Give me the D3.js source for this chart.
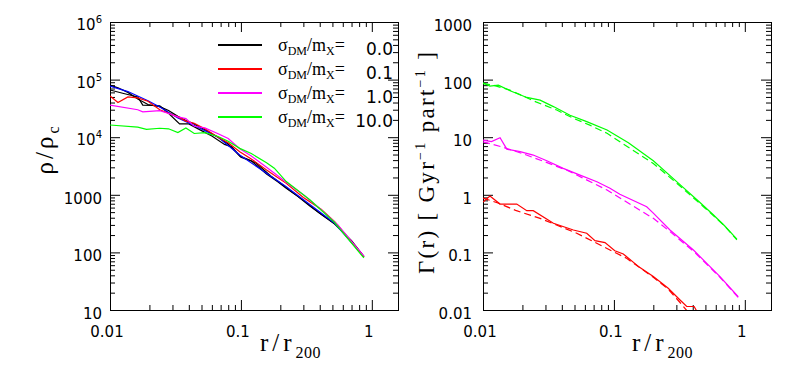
<!DOCTYPE html>
<html>
<head>
<meta charset="utf-8">
<script src="https://cdn.jsdelivr.net/npm/d3@7"></script>
<style>
body { margin: 0; background: #fff; }
text { fill: #000; }
</style>
</head>
<body>
<script>
// ---- left panel: density profiles, [r/r200, rho/rho_c] ----
var rhoBlueFit = [[0.01, 77400], [0.0137, 62000], [0.0195, 43000], [0.024, 33500], [0.033, 21500],
    [0.044, 16000], [0.067, 10000], [0.098, 4900], [0.157, 2360], [0.222, 1380], [0.336, 680],
    [0.52, 320], [0.87, 84]];
var rhoBlackA = [[0.01, 80000], [0.0115, 72000], [0.0137, 60000], [0.0163, 46000], [0.0195, 37000],
    [0.024, 34000], [0.028, 29000], [0.033, 23000], [0.038, 19500], [0.044, 17000], [0.053, 13500],
    [0.067, 10000], [0.08, 7600], [0.098, 4700], [0.12, 3900], [0.157, 2300], [0.19, 1700],
    [0.222, 1300], [0.27, 950], [0.336, 640], [0.42, 440], [0.52, 310], [0.7, 160], [0.87, 85]];
var rhoBlackB = [[0.01, 66000], [0.0125, 58000], [0.0163, 50000], [0.0178, 36000], [0.021, 35500],
    [0.024, 35000], [0.028, 26000], [0.034, 17000], [0.04, 17000], [0.05, 13000], [0.06, 10500],
    [0.075, 7500], [0.085, 6800], [0.1, 4500], [0.13, 3600], [0.17, 2100], [0.2, 1600],
    [0.23, 1250], [0.3, 800], [0.4, 480], [0.55, 290], [0.87, 84]];
var rhoRed = [[0.01, 52000], [0.0115, 40000], [0.0137, 50000], [0.0163, 48000], [0.0195, 42000],
    [0.024, 30000], [0.028, 26000], [0.033, 22500], [0.038, 19000], [0.044, 17500], [0.053, 14000],
    [0.067, 10000], [0.08, 8000], [0.098, 5600], [0.12, 4200], [0.157, 2700], [0.222, 1580],
    [0.3, 900], [0.41, 560], [0.52, 340], [0.87, 84]];
var rhoMagenta = [[0.01, 36000], [0.0163, 30000], [0.0178, 27500], [0.024, 29000], [0.0277, 26000],
    [0.033, 22500], [0.038, 21000], [0.044, 15500], [0.053, 14500], [0.067, 11500], [0.08, 9500],
    [0.098, 6300], [0.12, 4700], [0.157, 3000], [0.222, 1650], [0.3, 1000], [0.4, 580],
    [0.55, 300], [0.87, 86]];
var rhoGreen = [[0.01, 16300], [0.0163, 15000], [0.019, 13700], [0.024, 14300], [0.028, 14000],
    [0.033, 12000], [0.038, 14500], [0.044, 11600], [0.053, 12000], [0.067, 10300], [0.08, 8500],
    [0.098, 6400], [0.12, 5200], [0.157, 3600], [0.18, 2900], [0.222, 1700], [0.3, 1000],
    [0.336, 820], [0.52, 330], [0.87, 80]];

// ---- right panel: scattering rate, [r/r200, Gamma] (solid = measured, dashed = estimate) ----
var gamGreen = [[0.01, 88], [0.0113, 77], [0.0131, 80], [0.0161, 64], [0.0216, 49], [0.0273, 44],
    [0.0345, 34], [0.0462, 24], [0.062, 18.6], [0.0886, 13.3], [0.129, 8.0], [0.2, 3.9],
    [0.32, 1.5], [0.45, 0.75], [0.574, 0.45], [0.7, 0.29], [0.87, 0.17]];
var gamGreenEst = [[0.01, 85], [0.012, 80], [0.016, 66], [0.0254, 41], [0.0366, 29.6], [0.049, 21.3],
    [0.0655, 16.2], [0.0886, 11.7], [0.118, 7.6], [0.2, 3.5], [0.32, 1.42], [0.5, 0.58],
    [0.7, 0.29], [0.87, 0.165]];
var gamMagenta = [[0.01, 8.9], [0.0116, 8.4], [0.0135, 9.8], [0.0152, 6.2], [0.0192, 5.6],
    [0.0242, 4.9], [0.0307, 3.9], [0.041, 2.88], [0.0551, 2.2], [0.0741, 1.69], [0.0933, 1.3],
    [0.111, 1.02], [0.178, 0.62], [0.2, 0.48], [0.268, 0.245], [0.405, 0.11], [0.646, 0.038],
    [0.89, 0.017]];
var gamMagentaEst = [[0.01, 8.3], [0.0139, 6.8], [0.02, 5.2], [0.03, 3.7], [0.045, 2.6],
    [0.0886, 1.21], [0.118, 0.81], [0.2, 0.39], [0.268, 0.23], [0.405, 0.105], [0.646, 0.037],
    [0.89, 0.0165]];
var gamRed = [[0.01, 0.75], [0.0113, 0.95], [0.0135, 0.69], [0.0181, 0.69], [0.0216, 0.53],
    [0.0242, 0.53], [0.0345, 0.32], [0.049, 0.245], [0.062, 0.215], [0.0717, 0.16], [0.0855, 0.148],
    [0.1016, 0.107], [0.118, 0.094], [0.157, 0.055], [0.2, 0.038], [0.26, 0.0238], [0.32, 0.0149],
    [0.36, 0.0115], [0.41, 0.0115], [0.43, 0.0095]];
var gamRedEst = [[0.01, 0.88], [0.013, 0.72], [0.018, 0.53], [0.0273, 0.39], [0.052, 0.215],
    [0.0886, 0.117], [0.125, 0.079], [0.2, 0.037], [0.26, 0.023], [0.32, 0.0135], [0.36, 0.0098],
    [0.38, 0.0085]];

var legendValues = ["0.0", "0.1", "1.0", "10.0"];
var legendColors = ["#000000", "#ff0000", "#ff00ff", "#00ff00"];

var W = 789, H = 385;
var SIZE = 288, TOP = 22;
var X_DOMAIN = [0.01, Math.pow(10, 0.2)];

var svg = d3.select("body").append("svg")
    .attr("width", W)
    .attr("height", H);

function logTicks(domain) {
    var major = [], minor = [];
    var lo = Math.floor(Math.log10(domain[0])), hi = Math.ceil(Math.log10(domain[1]));
    for (var e = lo; e <= hi; e++) {
        for (var k = 1; k < 10; k++) {
            var v = k * Math.pow(10, e);
            if (v < domain[0] * 0.999 || v > domain[1] * 1.001) continue;
            (k == 1 ? major : minor).push(v);
        }
    }
    return { major: major, minor: minor };
}

/**
 * Frame + inward ticks on all four sides.
 */
function makePanel(id, left, yDomain) {
    var x = d3.scaleLog().domain(X_DOMAIN).range([left, left + SIZE]);
    var y = d3.scaleLog().domain(yDomain).range([TOP + SIZE, TOP]);
    var g = svg.append("g").attr("id", id);

    g.append("clipPath").attr("id", id + "-clip")
        .append("rect")
        .attr("x", left).attr("y", TOP)
        .attr("width", SIZE).attr("height", SIZE);

    var xt = logTicks(X_DOMAIN), yt = logTicks(yDomain);
    var sides = [
        [d3.axisBottom, x, xt, "translate(0," + (TOP + SIZE) + ")"],
        [d3.axisTop, x, xt, "translate(0," + TOP + ")"],
        [d3.axisLeft, y, yt, "translate(" + left + ",0)"],
        [d3.axisRight, y, yt, "translate(" + (left + SIZE) + ",0)"]
    ];
    sides.forEach(function (s) {
        [[s[2].major, 10], [s[2].minor, 5]].forEach(function (t) {
            g.append("g")
                .attr("transform", s[3])
                .call(s[0](s[1]).tickValues(t[0]).tickSize(-t[1]).tickFormat(""))
                .call(function (a) { a.select(".domain").remove(); })
                .selectAll("line").attr("stroke", "#000").attr("stroke-width", 1);
        });
    });

    g.append("rect")
        .attr("x", left + 0.5).attr("y", TOP + 0.5)
        .attr("width", SIZE).attr("height", SIZE)
        .attr("fill", "none").attr("stroke", "#000").attr("stroke-width", 1);

    // x tick labels
    xt.major.forEach(function (v) {
        g.append("text")
            .attr("x", x(v) - 3).attr("y", 337)
            .attr("text-anchor", "middle")
            .style("font-family", "DejaVu Sans").style("font-size", "15px")
            .text(String(v));
    });

    return { x: x, y: y, g: g, left: left, yt: yt };
}

function drawCurve(p, data, color, dashed) {
    var line = d3.line()
        .x(function (d) { return p.x(d[0]); })
        .y(function (d) { return p.y(d[1]); });
    p.g.append("path")
        .datum(data)
        .attr("clip-path", "url(#" + p.g.attr("id") + "-clip)")
        .attr("d", line)
        .attr("fill", "none")
        .attr("stroke", color)
        .attr("stroke-width", 1.2)
        .attr("stroke-dasharray", dashed ? "7,4" : null);
}

function xLabel(g, x0) {
    var t = g.append("text")
        .attr("x", x0).attr("y", 351)
        .style("font-family", "Liberation Serif").style("font-size", "25px")
        .style("letter-spacing", "4px");
    t.append("tspan").text("r/r");
    t.append("tspan").attr("dy", 7).style("font-size", "16px").style("letter-spacing", "0.5px").text("200");
}

// ---------------- left panel ----------------
var L = makePanel("left", 110, [10, 1e6]);

L.yt.major.forEach(function (v) {
    var e = Math.round(Math.log10(v));
    var t = L.g.append("text")
        .attr("x", 102)
        .attr("text-anchor", "end")
        .style("font-family", "DejaVu Sans").style("font-size", "15px");
    if (e >= 4) {
        t.attr("y", L.y(v) + 8);
        t.append("tspan").text("10");
        t.append("tspan").attr("dy", -7).style("font-size", "10px").text(e);
    } else {
        t.attr("y", L.y(v) + 9).text(String(v));
    }
});

drawCurve(L, rhoBlackA, "#000000");
drawCurve(L, rhoBlackB, "#000000");
drawCurve(L, rhoBlueFit, "#0000ff");
drawCurve(L, rhoRed, "#ff0000");
drawCurve(L, rhoMagenta, "#ff00ff");
drawCurve(L, rhoGreen, "#00ff00");

var rowY = d3.scaleLinear().domain([0, 3]).range([45, 117]);
legendValues.forEach(function (val, i) {
    var yy = rowY(i);
    L.g.append("line")
        .attr("x1", 218).attr("x2", 262)
        .attr("y1", yy).attr("y2", yy)
        .attr("stroke", legendColors[i]).attr("stroke-width", 2);
    var t = L.g.append("text")
        .attr("x", 278).attr("y", yy + 6)
        .style("font-family", "Liberation Serif").style("font-size", "18px");
    t.append("tspan").text("σ");
    t.append("tspan").attr("dy", 4).style("font-size", "12px").text("DM");
    t.append("tspan").attr("dy", -4).text("/m");
    t.append("tspan").attr("dy", 4).style("font-size", "12px").text("X");
    t.append("tspan").attr("dy", -4).text("=");
    L.g.append("text")
        .attr("x", 393).attr("y", yy + 10)
        .attr("text-anchor", "end")
        .style("font-family", "DejaVu Sans").style("font-size", "17px")
        .text(val);
});

var ly = L.g.append("text")
    .attr("transform", "translate(53,149) rotate(-90)")
    .attr("text-anchor", "middle")
    .style("font-family", "Liberation Serif").style("font-size", "25px")
    .style("letter-spacing", "3px");
ly.append("tspan").text("ρ/ρ");
ly.append("tspan").attr("dy", 6).style("font-size", "16px").text("c");

xLabel(L.g, 260);

// ---------------- right panel ----------------
var R = makePanel("right", 483, [0.01, 1000]);

R.yt.major.forEach(function (v) {
    R.g.append("text")
        .attr("x", 472).attr("y", R.y(v) + 9)
        .attr("text-anchor", "end")
        .style("font-family", "DejaVu Sans").style("font-size", "15px")
        .text(String(v));
});

drawCurve(R, gamGreenEst, "#00ff00", true);
drawCurve(R, gamGreen, "#00ff00");
drawCurve(R, gamMagentaEst, "#ff00ff", true);
drawCurve(R, gamMagenta, "#ff00ff");
drawCurve(R, gamRedEst, "#ff0000", true);
drawCurve(R, gamRed, "#ff0000");

var ry = R.g.append("text")
    .attr("transform", "translate(434,162) rotate(-90)")
    .attr("text-anchor", "middle")
    .style("font-family", "Liberation Serif").style("font-size", "23px")
    .style("letter-spacing", "2.3px");
ry.append("tspan").text("Γ(r)  [  Gyr");
ry.append("tspan").attr("dy", -9).style("font-size", "14px").text("−1");
ry.append("tspan").attr("dy", 9).text("  part");
ry.append("tspan").attr("dy", -9).style("font-size", "14px").text("−1");
ry.append("tspan").attr("dy", 9).text("  ]");

xLabel(R.g, 632);
</script>
</body>
</html>
